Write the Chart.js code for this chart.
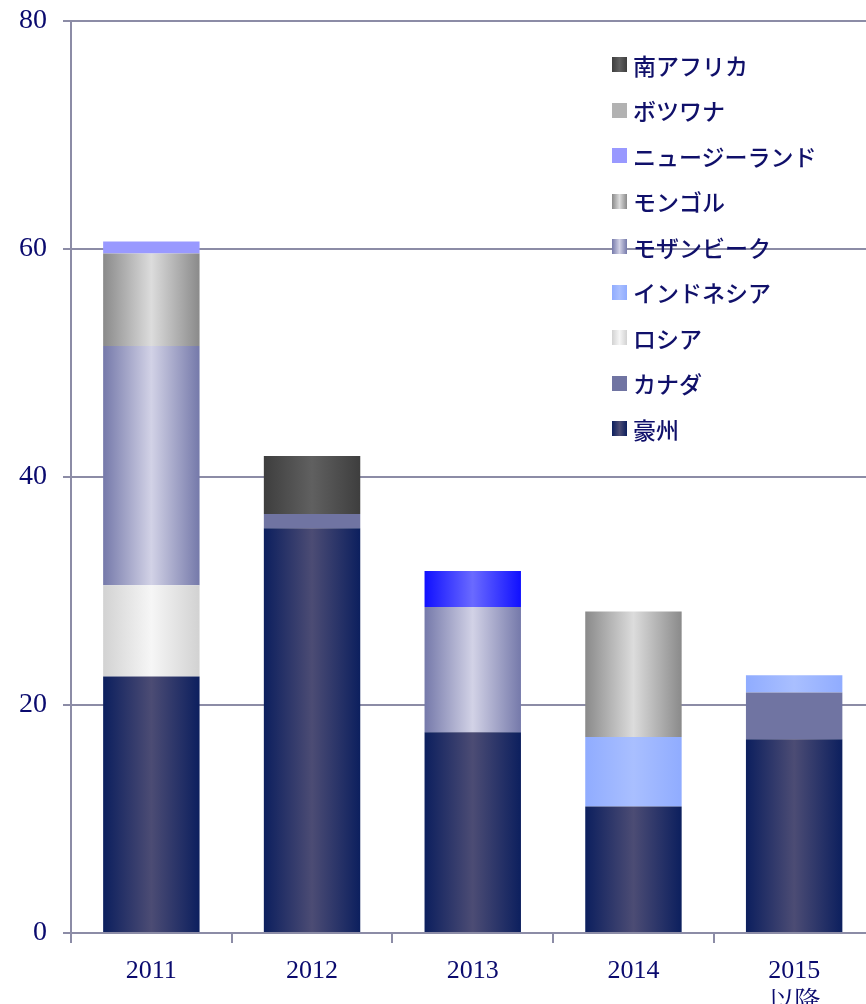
<!DOCTYPE html>
<html>
<head>
<meta charset="utf-8">
<script src="https://cdn.jsdelivr.net/npm/chart.js@4"></script>
<style>
  html, body { margin: 0; padding: 0; background: #fff; overflow: hidden; }
  #wrap { position: relative; width: 866px; height: 1004px; overflow: hidden; }
  #legend { position: absolute; left: 612px; top: 42px; font-family: "Noto Sans CJK JP", sans-serif; font-size: 23px; font-weight: 500; color: #10106a; }
  #legend .item { height: 45.5px; display: flex; align-items: center; white-space: nowrap; }
  #legend .sw { width: 15px; height: 15px; margin-right: 6px; }
</style>
</head>
<body>
<div id="wrap">
  <canvas id="c" width="880" height="1004"></canvas>
  <div id="legend"></div>
</div>
<script>
const years = ["2011", "2012", "2013", "2014", ["2015", "以降"]];
const yTicks = [0, 20, 40, 60, 80];

// stacked values per country, bottom to top
const australia   = [22.5, 35.5, 17.6, 11.1, 17.0];
const canada      = [null, 1.25, null, null, 4.1];
const russia      = [8.0, null, null, null, null];
const indonesia   = [null, null, null, 6.1, 1.5];
const mozambique  = [21.0, null, 11.0, null, null];
const mongolia    = [8.1, null, null, 11.0, null];
const newZealand  = [1.05, null, 3.15, null, null];
const botswana    = [null, null, null, null, null];
const southAfrica = [null, 5.1, null, null, null];

// [edge, centre] colours for the horizontal shading
const shades = {
  "豪州": ["#0c1f5e", "#4c4c74"],
  "カナダ": ["#7074a2", "#7074a2"],
  "ロシア": ["#d2d2d2", "#f6f6f6"],
  "インドネシア": ["#90acff", "#a9bfff"],
  "モザンビーク": ["#7579aa", "#d2d2e6"],
  "モンゴル": ["#8a8a8a", "#dcdcdc"],
  "ニュージーランド": ["#9999ff", "#9999ff"],
  "ボツワナ": ["#b2b2b2", "#b2b2b2"],
  "南アフリカ": ["#3e3e3e", "#606060"],
};
const nzBright = ["#1010ff", "#6a6aff"];

function shade(pair, idxOverride) {
  return (ctx) => {
    const chart = ctx.chart;
    const xs = chart.scales && chart.scales.x;
    let p = pair;
    if (idxOverride && idxOverride[ctx.dataIndex]) p = idxOverride[ctx.dataIndex];
    if (!xs || ctx.dataIndex === undefined) return p[0];
    const cx = xs.getPixelForValue(ctx.dataIndex);
    const hw = (xs.width / years.length) * 0.6 / 2;
    if (!isFinite(cx) || !isFinite(hw) || hw <= 0) return p[0];
    const g = chart.ctx.createLinearGradient(cx - hw, 0, cx + hw, 0);
    g.addColorStop(0, p[0]);
    g.addColorStop(0.5, p[1]);
    g.addColorStop(1, p[0]);
    return g;
  };
}

const series = [
  ["豪州", australia],
  ["カナダ", canada],
  ["ロシア", russia],
  ["インドネシア", indonesia],
  ["モザンビーク", mozambique],
  ["モンゴル", mongolia],
  ["ニュージーランド", newZealand],
  ["ボツワナ", botswana],
  ["南アフリカ", southAfrica],
];

const datasets = series.map(([name, vals]) => ({
  label: name,
  data: vals,
  backgroundColor: shade(shades[name], name === "ニュージーランド" ? { 2: nzBright } : null),
  borderWidth: 0,
  categoryPercentage: 1,
  barPercentage: 0.6,
}));

const gridColor = "#8c8ca6";
const serif = '"Liberation Serif", "Noto Serif CJK JP", "Noto Sans CJK JP", serif';

new Chart(document.getElementById("c"), {
  type: "bar",
  data: { labels: years, datasets: datasets },
  options: {
    responsive: false,
    animation: false,
    layout: { padding: { top: 21, right: 5.5, left: 0, bottom: 0 } },
    plugins: { legend: { display: false }, tooltip: { enabled: false } },
    scales: {
      x: {
        stacked: true,
        grid: { drawOnChartArea: false, color: gridColor, lineWidth: 2, tickLength: 10, offset: true },
        border: { color: gridColor, width: 2 },
        ticks: { color: "#0a0a6e", font: { family: serif, size: 26 }, padding: 13, maxRotation: 0 },
        afterFit: (s) => { s.height = 71; s.paddingLeft = 0; s.paddingRight = 0; },
      },
      y: {
        stacked: true,
        min: 0,
        max: 80,
        afterBuildTicks: (s) => { s.ticks = yTicks.map((v) => ({ value: v })); },
        grid: { color: gridColor, lineWidth: 2, tickLength: 8 },
        border: { color: gridColor, width: 2 },
        ticks: { color: "#0a0a6e", font: { family: serif, size: 28 }, padding: 16 },
        afterFit: (s) => { s.width = 71; s.paddingTop = 0; s.paddingBottom = 0; },
      },
    },
  },
});

// legend, top item = last series
const legend = document.getElementById("legend");
series.slice().reverse().forEach(([name]) => {
  const [e, c] = shades[name];
  const item = document.createElement("div");
  item.className = "item";
  const sw = document.createElement("span");
  sw.className = "sw";
  sw.style.background = `linear-gradient(to right, ${e}, ${c}, ${e})`;
  const t = document.createElement("span");
  t.textContent = name;
  item.appendChild(sw);
  item.appendChild(t);
  legend.appendChild(item);
});
</script>
</body>
</html>
